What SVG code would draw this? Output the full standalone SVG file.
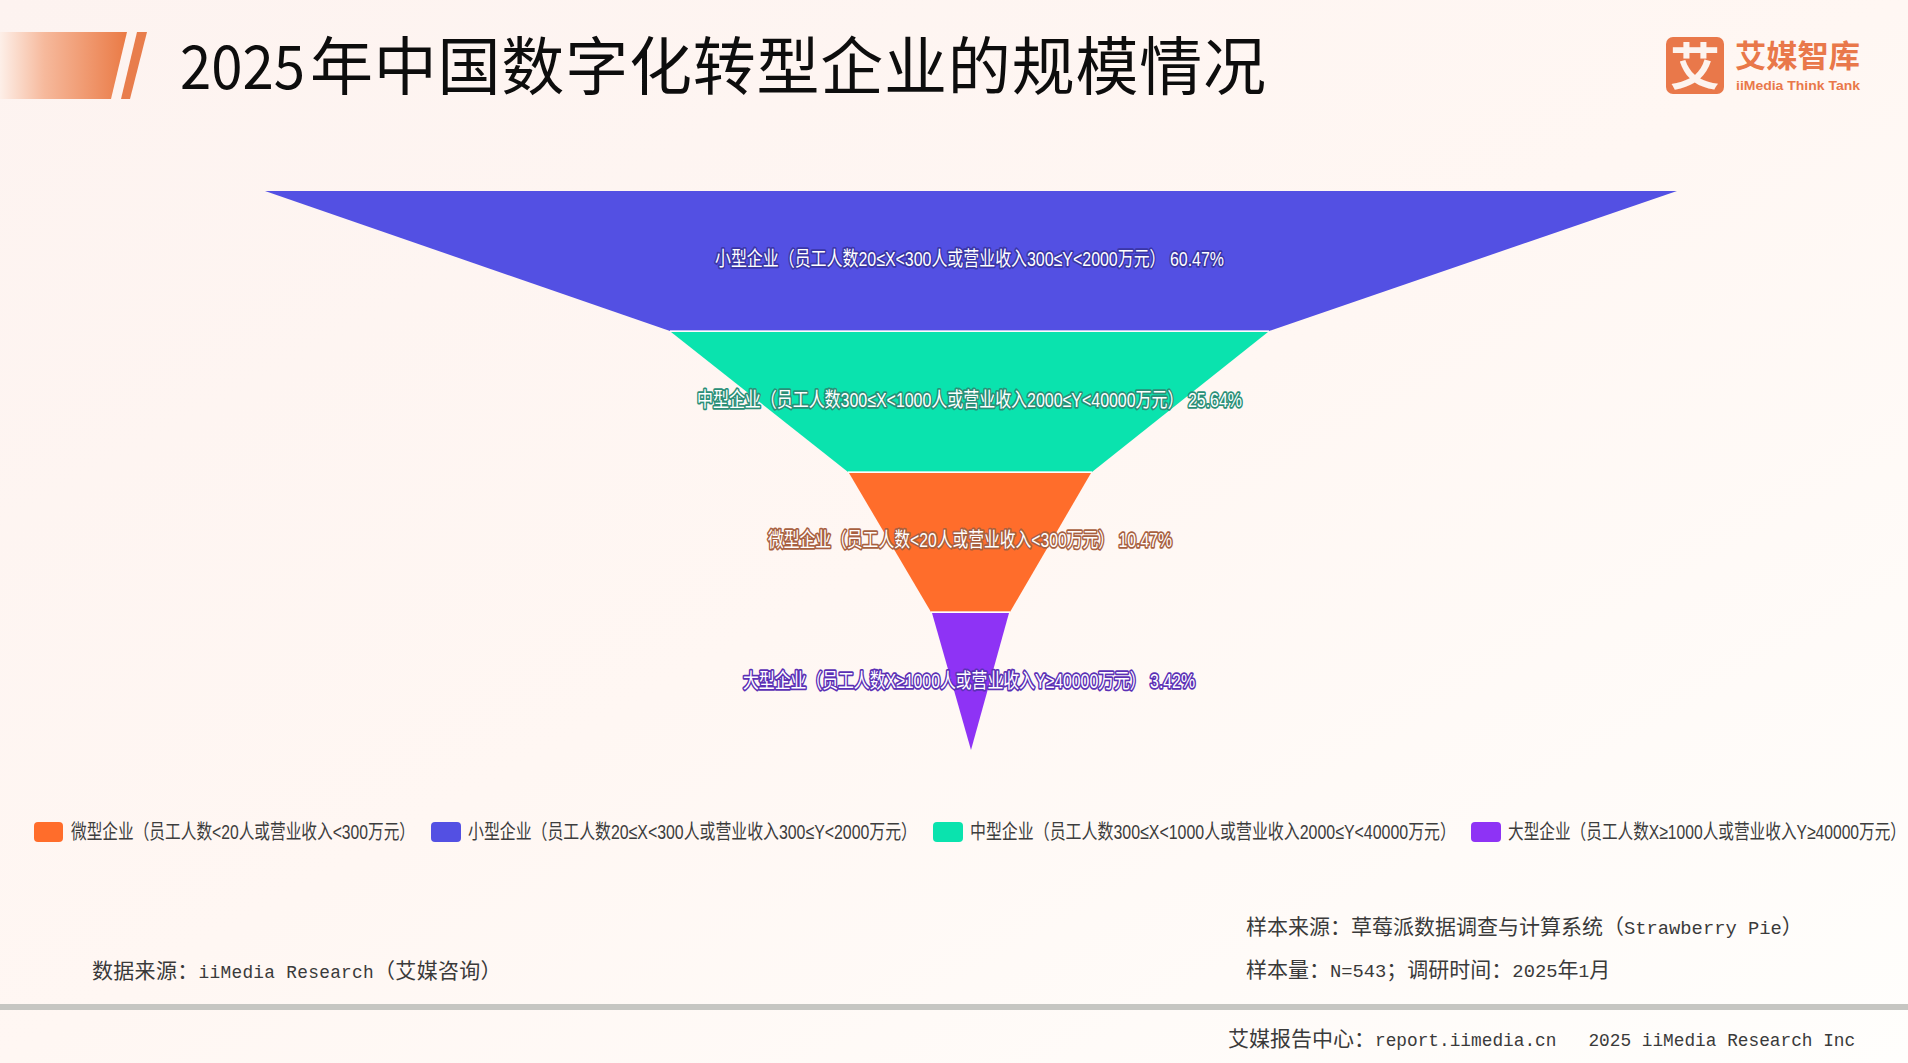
<svg xmlns="http://www.w3.org/2000/svg" width="1908" height="1063" viewBox="0 0 1908 1063">
<style>
text{font-family:"Liberation Sans","Noto Sans CJK SC",sans-serif}
.title{font-family:"Noto Sans CJK SC",sans-serif;fill:#0d0d0d}
.mono{font-family:"Noto Sans CJK SC",sans-serif;font-size:21px;fill:#3a3a3a;white-space:pre}
.mono tspan{font-family:"Liberation Mono",monospace;font-size:17.8px}
.mono tspan.wide{font-size:18.8px}
.leg{font-size:15px;fill:#3d3d3d}
.lab{font-size:20px;fill:#fff;paint-order:stroke;stroke-width:3.5px;stroke-linejoin:round}
.sep{stroke:#fff;stroke-opacity:.65;stroke-width:2}
.logo{fill:#e9784a}
</style>
<defs>
<linearGradient id="bg" x1="0" y1="0" x2="1" y2="1"><stop offset="0" stop-color="#fdf3f0"/><stop offset=".5" stop-color="#fff7f3"/><stop offset="1" stop-color="#fffefc"/></linearGradient>
<linearGradient id="bar" x1="0" x2="1" y1="0" y2="0"><stop offset="0" stop-color="#fdefe8"/><stop offset=".35" stop-color="#f6b99c"/><stop offset="1" stop-color="#ea7a45"/></linearGradient>
</defs>
<rect width="1908" height="1063" fill="url(#bg)"/>
<g id="header">
<polygon points="0,32 127,32 111,99 0,99" fill="url(#bar)"/>
<polygon points="137,32 147,32 130,99 121,99" fill="#e87d4c"/>
<text class="title" x="180" y="89" font-size="60" textLength="125" lengthAdjust="spacingAndGlyphs">2025</text>
<text class="title" x="310" y="89" font-size="63" textLength="956" lengthAdjust="spacing">年中国数字化转型企业的规模情况</text>
</g>
<g id="logo">
<rect x="1666" y="37" width="58" height="57" rx="7" class="logo"/>
<text x="1695" y="85" font-size="50" font-weight="700" fill="#fdf3ee" text-anchor="middle">艾</text>
<text x="1735" y="67" font-size="31" font-weight="700" class="logo" textLength="125" lengthAdjust="spacingAndGlyphs">艾媒智库</text>
<text x="1736" y="90" font-size="13" font-weight="700" class="logo" textLength="124" lengthAdjust="spacingAndGlyphs">iiMedia Think Tank</text>
</g>
<g id="funnel-small">
<polygon points="265,191 1677,191 1269,331 670,331" fill="#5350e3"/>
<line class="sep" x1="670" y1="331" x2="1269" y2="331"/>
<text class="lab" x="715" y="266" stroke="#3a36a6" textLength="509" lengthAdjust="spacingAndGlyphs">小型企业（员工人数20≤X&lt;300人或营业收入300≤Y&lt;2000万元） 60.47%</text>
</g>
<g id="funnel-medium">
<polygon points="671,332 1268,332 1092,472 848,472" fill="#0ae3ae"/>
<line class="sep" x1="848" y1="472" x2="1092" y2="472"/>
<text class="lab" x="697" y="407" stroke="#2a8f77" textLength="545" lengthAdjust="spacingAndGlyphs">中型企业（员工人数300≤X&lt;1000人或营业收入2000≤Y&lt;40000万元） 25.64%</text>
</g>
<g id="funnel-micro">
<polygon points="849,473 1091,473 1010,612 931,612" fill="#ff6d2b"/>
<line class="sep" x1="931" y1="612" x2="1010" y2="612"/>
<text class="lab" x="768" y="547" stroke="#a8603f" textLength="404" lengthAdjust="spacingAndGlyphs">微型企业（员工人数&lt;20人或营业收入&lt;300万元） 10.47%</text>
</g>
<g id="funnel-large">
<polygon points="932,613 1009,613 971,750" fill="#8e33f5"/>
<text class="lab" x="743" y="688" stroke="#5b30b5" textLength="452" lengthAdjust="spacingAndGlyphs">大型企业（员工人数X≥1000人或营业收入Y≥40000万元） 3.42%</text>
</g>
<g id="legend-micro">
<rect x="34" y="822" width="29" height="20" rx="4" fill="#ff6d2b"/>
<text class="leg" transform="translate(71,839) scale(1,1.35)" textLength="344" lengthAdjust="spacingAndGlyphs">微型企业（员工人数&lt;20人或营业收入&lt;300万元）</text>
</g>
<g id="legend-small">
<rect x="431" y="822" width="30" height="20" rx="4" fill="#5350e3"/>
<text class="leg" transform="translate(468,839) scale(1,1.35)" textLength="449" lengthAdjust="spacingAndGlyphs">小型企业（员工人数20≤X&lt;300人或营业收入300≤Y&lt;2000万元）</text>
</g>
<g id="legend-medium">
<rect x="933" y="822" width="30" height="20" rx="4" fill="#0ae3ae"/>
<text class="leg" transform="translate(970,839) scale(1,1.35)" textLength="486" lengthAdjust="spacingAndGlyphs">中型企业（员工人数300≤X&lt;1000人或营业收入2000≤Y&lt;40000万元）</text>
</g>
<g id="legend-large">
<rect x="1471" y="822" width="30" height="20" rx="4" fill="#8e33f5"/>
<text class="leg" transform="translate(1508,839) scale(1,1.35)" textLength="398" lengthAdjust="spacingAndGlyphs">大型企业（员工人数X≥1000人或营业收入Y≥40000万元）</text>
</g>
<g id="footer">
<text class="mono" x="92" y="978" style="letter-spacing:.3px">数据来源：<tspan>iiMedia Research</tspan>（艾媒咨询）</text>
<text class="mono" x="1246" y="934">样本来源：草莓派数据调查与计算系统（<tspan class="wide">Strawberry Pie</tspan>）</text>
<text class="mono" x="1246" y="977">样本量：<tspan class="wide">N=543</tspan>；调研时间：<tspan class="wide">2025</tspan>年<tspan>1</tspan>月</text>
<rect x="0" y="1004" width="1908" height="6" fill="#c6c6c2"/>
<text class="mono" x="1228" y="1046">艾媒报告中心：<tspan>report.iimedia.cn   2025 iiMedia Research Inc</tspan></text>
</g>
</svg>
